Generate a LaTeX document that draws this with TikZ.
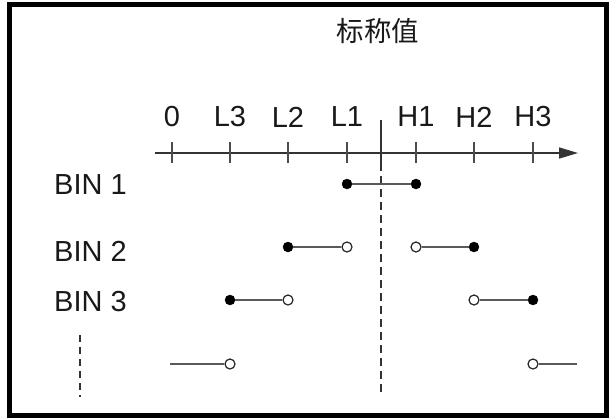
\documentclass[tikz,border=0pt]{standalone}
\usepackage{fontspec}
\setmainfont{Liberation Sans}
\newfontfamily\cjk{Noto Sans CJK SC}
\usetikzlibrary{arrows.meta}
\begin{document}
\begin{tikzpicture}[x=1pt,y=-1pt,
  lbl/.style={font=\fontsize{29}{29}\selectfont, inner sep=0pt, text=black!90},
  fdot/.style={circle,fill=black,draw=black,minimum size=10pt,inner sep=0pt},
  odot/.style={circle,fill=white,draw=black!85,line width=1.2pt,minimum size=10pt,inner sep=0pt},
  seg/.style={draw=black!65,line width=1.5pt},
  axisline/.style={draw=black!80,line width=1.5pt,-{Triangle[length=19pt,width=11pt]}},
  tickline/.style={draw=black!70,line width=1.1pt},
  refline/.style={draw=black!80,line width=1.1pt},
  refdash/.style={draw=black!80,line width=1.1pt,dash pattern=on 8pt off 5pt},
]
\useasboundingbox (0,0) rectangle (611,418);
\draw[line width=5pt] (9.5,4.5) rectangle (606,415.5);

% title
\node[lbl,font=\cjk\fontsize{27.5}{27.5}\selectfont] (title) at (378,31) {标称值};

% axis
\coordinate (axs) at (155,153);
\coordinate (axe) at (578,153);
\draw[axisline] (axs) -- (axe);

\foreach \n/\x/\t in {t0/172/0, tL3/230/L3, tL2/288/L2, tL1/347/L1, tH1/416/H1, tH2/474/H2, tH3/533/H3}{
  \coordinate (\n) at (\x,153);
  \draw[tickline] ([yshift=11pt]\n) -- ([yshift=-10pt]\n);
  \node[lbl] (lab-\n) at (\x,117) {\t};
}

% nominal reference line
\coordinate (rtop) at (381,120);
\coordinate (rmid) at (381,163);
\coordinate (rbot) at (381,396);
\draw[refline] (rtop) -- (rmid);
\draw[refdash] (rmid) -- (rbot);

% bin labels
\node[lbl,anchor=west] (bin1) at (54,185) {BIN 1};
\node[lbl,anchor=west] (bin2) at (54,251) {BIN 2};
\node[lbl,anchor=west] (bin3) at (54,302) {BIN 3};

% left dashed continuation
\coordinate (ld1) at (80,335);
\coordinate (ld2) at (80,397);
\draw[refdash,dash pattern=on 7pt off 5pt] (ld1) -- (ld2);

% BIN 1
\node[fdot] (b1a) at (347,184) {};
\node[fdot] (b1b) at (416,184) {};
\draw[seg] (b1a) -- (b1b);

% BIN 2
\node[fdot] (b2a) at (288,247) {};
\node[odot] (b2b) at (347,247) {};
\node[odot] (b2c) at (416,247) {};
\node[fdot] (b2d) at (474,247) {};
\draw[seg] (b2a) -- (b2b);
\draw[seg] (b2c) -- (b2d);

% BIN 3
\node[fdot] (b3a) at (230,300) {};
\node[odot] (b3b) at (288,300) {};
\node[odot] (b3c) at (474,300) {};
\node[fdot] (b3d) at (533,300) {};
\draw[seg] (b3a) -- (b3b);
\draw[seg] (b3c) -- (b3d);

% row 4
\coordinate (r4l) at (170,364);
\node[odot] (r4a) at (230,364) {};
\node[odot] (r4b) at (533,364) {};
\coordinate (r4r) at (577,364);
\draw[seg] (r4l) -- (r4a);
\draw[seg] (r4b) -- (r4r);
\end{tikzpicture}
\end{document}
